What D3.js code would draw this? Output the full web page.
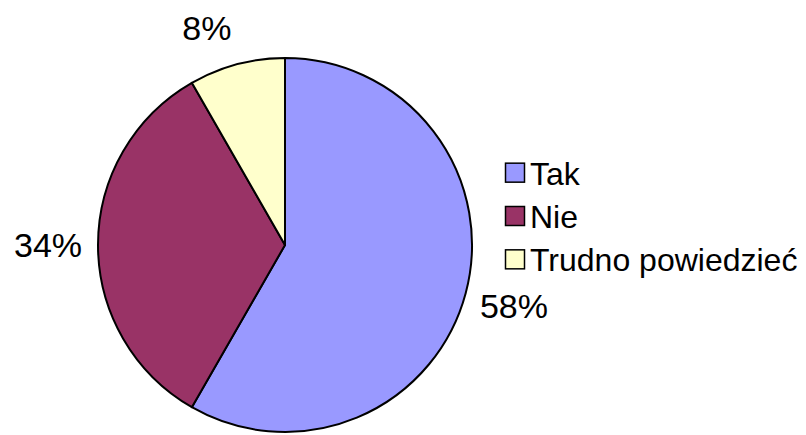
<!DOCTYPE html>
<html>
<head>
<meta charset="utf-8">
<script src="https://cdn.jsdelivr.net/npm/d3@7"></script>
<style>
  body { margin: 0; background: #fff; }
  svg { display: block; font-family: Arial, "Liberation Sans", sans-serif; }
</style>
</head>
<body>
<svg id="chart" width="806" height="435"></svg>
<script>
const categories = ["Tak", "Nie", "Trudno powiedzieć"];
const values = [58.3, 33.4, 8.3];
const labels = ["58%", "34%", "8%"];
const colors = ["#9999FF", "#993366", "#FFFFCC"];

// sizing
const cx = 285, cy = 245, radius = 187;

const svg = d3.select("svg#chart");

const data = categories.map((c, i) => ({name: c, value: values[i], label: labels[i]}));

const pie = d3.pie()
  .sort(null)
  .value(d => d.value);

const arc = d3.arc()
  .innerRadius(0)
  .outerRadius(radius);

const color = d3.scaleOrdinal()
  .domain(categories)
  .range(colors);

const arcs = pie(data);

const g = svg.append("g")
  .attr("transform", "translate(" + cx + "," + cy + ")");

g.selectAll("path.slice")
  .data(arcs)
  .enter()
  .append("path")
  .attr("class", "slice")
  .attr("d", arc)
  .style("fill", d => color(d.data.name))
  .style("stroke", "black")
  .style("stroke-width", "2px")
  .style("stroke-linejoin", "round");

// percent labels outside the pie
const labelArc = d3.arc()
  .innerRadius(radius + 50)
  .outerRadius(radius + 50);

g.selectAll("text.pct")
  .data(arcs)
  .enter()
  .append("text")
  .attr("class", "pct")
  .attr("x", d => labelArc.centroid(d)[0])
  .attr("y", d => labelArc.centroid(d)[1])
  // small slice label sits a bit further left and lower, as in the original
  .attr("dx", d => d.data.value < 10 ? -17 : 0)
  .attr("dy", d => d.data.value < 10 ? 12 : 0)
  .attr("text-anchor", "middle")
  .attr("dominant-baseline", "central")
  .style("font-size", "34px")
  .text(d => d.data.label);

// legend
const legendY = d3.scaleBand()
  .domain(categories)
  .range([151, 281]);

const legend = svg.append("g")
  .attr("transform", "translate(505,0)");

const rows = legend.selectAll("g.row")
  .data(categories)
  .enter()
  .append("g")
  .attr("class", "row")
  .attr("transform", d => "translate(0," + (legendY(d) + legendY.bandwidth() / 2) + ")");

rows.append("rect")
  .attr("x", 0.5)
  .attr("y", -9.5)
  .attr("width", 19)
  .attr("height", 19)
  .style("fill", d => color(d))
  .style("stroke", "black")
  .style("stroke-width", "1.5px");

rows.append("text")
  .attr("x", 25)
  .attr("y", 1)
  .attr("dominant-baseline", "central")
  .style("font-size", "32px")
  .text(d => d);
</script>
</body>
</html>
